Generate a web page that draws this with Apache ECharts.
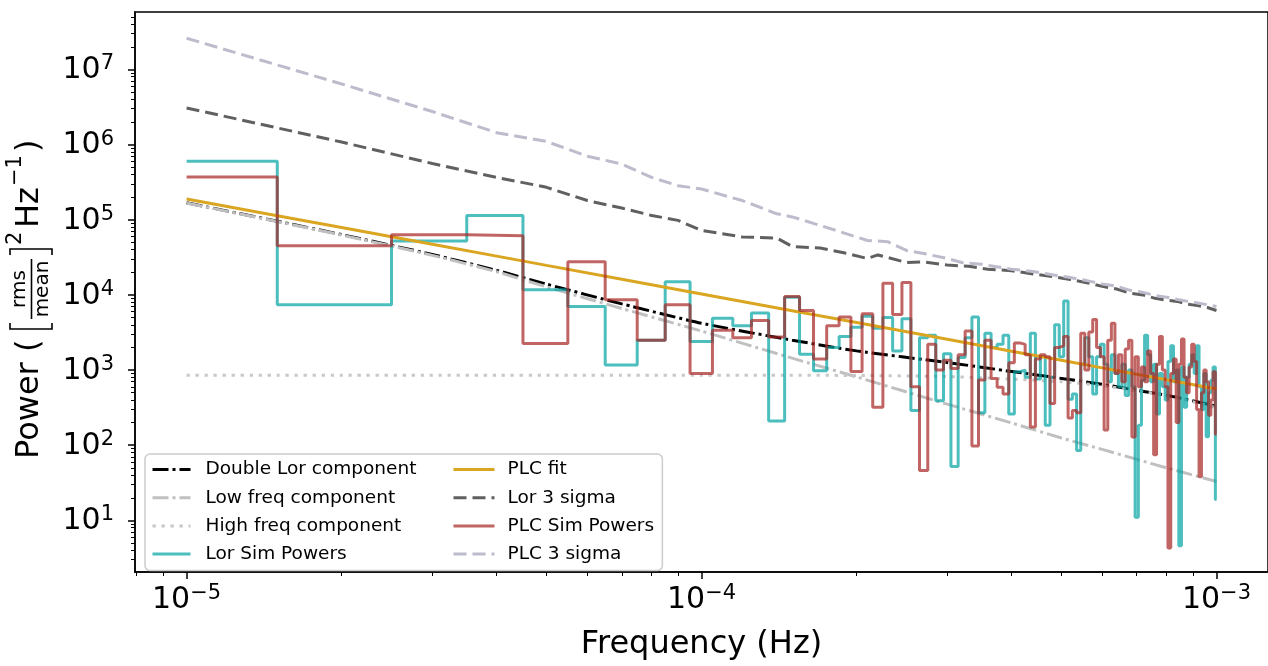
<!DOCTYPE html>
<html><head><meta charset="utf-8">
<script src="https://cdn.jsdelivr.net/npm/echarts@6/dist/echarts.min.js"></script>
<style>html,body{margin:0;padding:0;background:#fff}#c{width:1268px;height:666px}</style>
</head><body><div id="c"></div>
<script>
// ---------------- data ----------------
const DF = 1e-5;                       // Fourier frequency resolution (Hz); sim powers at k*DF, k = 1..100
const lorSimPowers = [
  6.0e5, 7.4e3, 5.2e4, 1.14e5, 1.17e4, 7.0e3, 1.17e3, 2.5e3, 1.5e4, 2.4e3,
  4.9e3, 3.9e3, 5.75e3, 210, 9.3e3, 1.62e3, 980, 2.0e3, 2.8e3, 3.7e3,
  5.2e3, 3.6e3, 5.0e3, 1.8e3, 4.8e3, 290, 2.7e3, 2.9e3, 390, 1.65e3,
  52, 1.47e3, 2.7e3, 5.1e3, 270, 3.1e3, 2.0e3, 2.2e3, 2.9e3, 260,
  950, 1.0e3, 800, 3.1e3, 760, 1.5e3, 185, 800, 4.0e3, 1.5e3,
  8.3e3, 410, 480, 85, 1.2e3, 2.7e3, 1.5e3, 480, 1.5e3, 2.2e3,
  1.2e3, 700, 1.6e3, 900, 600, 1.2e3, 460, 1.0e3, 600, 11,
  185, 730, 2.9e3, 1.6e3, 700, 1.2e3, 260, 900, 600, 400,
  1.3e3, 2.1e3, 700, 1.0e3, 4.6, 1.1e3, 320, 800, 1.2e3, 1.6e3,
  900, 2.1e3, 600, 300, 900, 130, 500, 730, 1.1e3, 19
];
const plcSimPowers = [
  3.7e5, 4.5e4, 6.3e4, 6.1e4, 2.26e3, 2.77e4, 8.6e3, 2.5e3, 7.4e3, 900,
  3.4e3, 2.7e3, 4.55e3, 2.76e3, 9.5e3, 6.2e3, 1.4e3, 3.9e3, 5.1e3, 960,
  5.6e3, 321, 1.43e4, 5.5e3, 1.46e4, 600, 46, 2.2e3, 1.0e3, 1.35e3,
  1.05e3, 1.6e3, 3.3e3, 98, 740, 2.5e3, 770, 590, 480, 1.25e3,
  2.3e3, 2.2e3, 1.6e3, 175, 1.4e3, 1.6e3, 1.5e3, 360, 2.0e3, 2.1e3,
  2.8e3, 230, 290, 270, 3.1e3, 1.0e3, 3.2e3, 4.7e3, 2.0e3, 1.5e3,
  160, 2.5e3, 4.2e3, 900, 1.6e3, 700, 1.9e3, 2.5e3, 129, 1.5e3,
  600, 1.1e3, 700, 1.8e3, 900, 75, 1.2e3, 2.8e3, 1.0e3, 600,
  4.3, 900, 1.4e3, 200, 1.2e3, 2.6e3, 800, 500, 1.1e3, 2.2e3,
  1.3e3, 300, 38, 500, 1.0e3, 700, 250, 400, 950, 140
];
const lorSigmaK = [1,2,3,4,5,6,7,8,9,10,12,14,15,17,19,21,22,25,27,30,33,36,40,44,48,52,56,60,64,68,72,76,80,84,88,92,96,100];
const lor3Sigma = [3.07e6,1.08e6,5.6e5,3.66e5,2.7e5,1.8e5,1.43e5,1.14e5,9.8e4,7.2e4,
  5.9e4,5.7e4,4.4e4,4.2e4,3.6e4,3.05e4,3.4e4,2.7e4,2.75e4,2.5e4,
  2.4e4,2.2e4,2.1e4,1.9e4,1.75e4,1.6e4,1.45e4,1.3e4,1.2e4,1.05e4,
  1.0e4,9.0e3,8.5e3,8.2e3,7.5e3,7.2e3,6.8e3,6.2e3];
const plcSigmaK = [1,2,3,4,5,6,7,8,9,10,12,14,15,17,21,23,25,27,30,32,35,40,44,48,52,56,60,64,68,72,76,80,84,88,92,96,100];
const plc3Sigma = [2.6e7,6.4e6,2.75e6,1.44e6,1.1e6,7.0e5,5.5e5,3.66e5,2.84e5,2.56e5,
  1.8e5,1.2e5,1.09e5,8.4e4,5.3e4,5.1e4,3.9e4,3.56e4,3.05e4,2.7e4,
  2.55e4,2.2e4,2.05e4,1.85e4,1.7e4,1.55e4,1.4e4,1.3e4,1.15e4,1.08e4,
  9.8e3,9.3e3,8.7e3,8.2e3,7.8e3,7.4e3,7.0e3];
const modelFreqs = [1e-5,1.5e-5,2e-5,3e-5,4e-5,5e-5,7e-5,1e-4,1.5e-4,2e-4,3e-4,4e-4,5e-4,6e-4,7e-4,8e-4,1e-3];
const doubleLor  = [1.68e5,9.55e4,6.34e4,3.45e4,2.12e4,1.39e4,7.6e3,4.2e3,2.5e3,1.8e3,1.26e3,959,775,646,538,463,331];
const lowFreqLor = [1.67e5,9.45e4,6.25e4,3.36e4,2.03e4,1.28e4,6.6e3,3.3e3,1.44e3,811,352,198,125,88,65,50,33];
const highFreqLor= [855,855,855,855,855,855,855,855,852,848,820,760,700,620,530,460,315];
const plcFit     = [1.89e5,1.13e5,7.88e4,4.72e4,3.28e4,2.47e4,1.62e4,1.03e4,6.16e3,4.29e3,2.57e3,1.78e3,1.35e3,1.07e3,879,742,560];
const xMajorTicks = [1e-5,1e-4,1e-3];
const yMajorTicks = [1e1,1e2,1e3,1e4,1e5,1e6,1e7];
const X_MIN = 7.94e-6, X_MAX = 1.259e-3, Y_MIN = 2.06, Y_MAX = 5.8e7;

// ---------------- helpers ----------------
function minorTicks(lo, hi){
  const out=[];
  for(let e=Math.floor(Math.log10(lo)); e<=Math.ceil(Math.log10(hi)); e++){
    for(let m=2;m<=9;m++){ const v=m*Math.pow(10,e); if(v>=lo && v<=hi) out.push(v); }
  }
  return out;
}
// matplotlib "steps-mid": transitions at the arithmetic midpoints between frequencies
function stepsMid(vals){
  const pts=[]; const n=vals.length;
  for(let i=0;i<n;i++){
    const f=(i+1)*DF;
    const left = i===0 ? f : (i+0.5)*DF;
    const right = i===n-1 ? f : (i+1.5)*DF;
    pts.push([left, vals[i]], [right, vals[i]]);
  }
  return pts;
}
const pairs = (xs, ys) => xs.map((x,i)=>[x, ys[i]]);
const kToF = ks => ks.map(k=>k*DF);
const FONT = 'DejaVu Sans';
function sci(v){ const e=Math.round(Math.log10(v)); return '{b|10}{s|'+(e<0?'\u2212':'')+Math.abs(e)+'}'; }
const rich = {
  b:{fontSize:30, fontFamily:FONT, color:'#000', lineHeight:32, padding:[6,0,0,0], verticalAlign:'bottom'},
  s:{fontSize:21, fontFamily:FONT, color:'#000', lineHeight:21, verticalAlign:'top'}
};

function lineSeries(name, data, color, width, type, opacity, smooth){
  return {name, type:'line', data, xAxisIndex:0, yAxisIndex:0, symbol:'none', showSymbol:false,
    smooth: smooth||false, silent:true, animation:false,
    lineStyle:{color, width, type, opacity: opacity==null?1:opacity, cap:'butt'},
    itemStyle:{color}};
}

const series = [
  lineSeries('Double Lor component', pairs(modelFreqs,doubleLor), '#000000', 3, [16,4,3,4], 1, 0.2),
  lineSeries('Low freq component', pairs(modelFreqs,lowFreqLor), '#c0c0c0', 3, [16,4,3,4], 1, 0.2),
  lineSeries('High freq component', pairs(modelFreqs,highFreqLor), '#c8c8c8', 3, [3.3,5.7], 1, 0.2),
  lineSeries('Lor Sim Powers', stepsMid(lorSimPowers), 'rgb(0,162,162)', 3, 'solid', 0.7),
  lineSeries('PLC fit', pairs(modelFreqs,plcFit), '#DAA520', 3, 'solid', 1),
  lineSeries('Lor 3 sigma', pairs(kToF(lorSigmaK),lor3Sigma), '#606060', 3, [13,6], 1),
  lineSeries('PLC Sim Powers', stepsMid(plcSimPowers), 'rgb(166,36,34)', 3, 'solid', 0.7),
  lineSeries('PLC 3 sigma', pairs(kToF(plcSigmaK),plc3Sigma), '#bcbccc', 3, [13,6], 1)
];

// y-axis title (rotated group so the fraction can be stacked)
const T = {fontFamily:FONT, fill:'#000'};
function tx(text, x, y, size){
  return {type:'text', x, y, style:Object.assign({text, fontSize:size, align:'left', verticalAlign:'middle', textAlign:'left', textVerticalAlign:'middle'},T)};
}
const yTitle = {
  type:'group', x:0, y:459, rotation:Math.PI/2, silent:true, z:20,
  children:[
    tx('Power (', 0, 30, 32),
    {type:'polyline', shape:{points:[[136,10],[130,10],[130,52],[136,52]]}, style:{stroke:'#000', lineWidth:1.6, fill:null}},
    {type:'text', x:170, y:20, style:Object.assign({text:'rms', fontSize:20, align:'center', verticalAlign:'middle', textAlign:'center', textVerticalAlign:'middle'},T)},
    {type:'line', shape:{x1:140, y1:31.5, x2:200, y2:31.5}, style:{stroke:'#000', lineWidth:1.6}},
    {type:'text', x:170, y:43, style:Object.assign({text:'mean', fontSize:20, align:'center', verticalAlign:'middle', textAlign:'center', textVerticalAlign:'middle'},T)},
    {type:'polyline', shape:{points:[[204,10],[210,10],[210,52],[204,52]]}, style:{stroke:'#000', lineWidth:1.6, fill:null}},
    tx('2', 214, 16, 21),
    tx('Hz', 231, 30, 32),
    tx('\u22121', 273, 16, 21),
    tx(')', 307, 30, 32)
  ]
};

const legendCommon = {
  orient:'vertical', itemHeight:14, itemGap:9.2, selectedMode:false,
  textStyle:{fontSize:18.5, fontFamily:FONT, color:'#000', lineHeight:18},
  itemStyle:{color:'rgba(0,0,0,0)', borderWidth:0, opacity:0},
  lineStyle:{width:3}
};

const option = {
  animation:false,
  textStyle:{fontFamily:FONT},
  grid:{left:135, top:12, right:-6, bottom:89, show:true, borderColor:'#000', borderWidth:1.5, backgroundColor:'transparent'},
  xAxis:[
    {type:'log', min:X_MIN, max:X_MAX, position:'bottom',
     axisLine:{show:true, onZero:false, lineStyle:{color:'#000', width:1.5}},
     axisTick:{show:true, customValues:xMajorTicks, length:7, lineStyle:{color:'#000', width:1.5}},
     axisLabel:{show:true, customValues:xMajorTicks, formatter:sci, rich, margin:11},
     splitLine:{show:false}, minorTick:{show:false},
     name:'Frequency (Hz)', nameLocation:'middle', nameGap:57,
     nameTextStyle:{fontSize:32, fontFamily:FONT, color:'#000'}},
    {type:'log', min:X_MIN, max:X_MAX, position:'bottom', gridIndex:0,
     axisLine:{show:false, onZero:false}, axisLabel:{show:false}, splitLine:{show:false},
     axisTick:{show:true, customValues:minorTicks(X_MIN,X_MAX), length:4, lineStyle:{color:'#000', width:1}}}
  ],
  yAxis:[
    {type:'log', min:Y_MIN, max:Y_MAX, position:'left',
     axisLine:{show:true, onZero:false, lineStyle:{color:'#000', width:1.5}},
     axisTick:{show:true, customValues:yMajorTicks, length:7, lineStyle:{color:'#000', width:1.5}},
     axisLabel:{show:true, customValues:yMajorTicks, formatter:sci, rich, margin:21},
     splitLine:{show:false}},
    {type:'log', min:Y_MIN, max:Y_MAX, position:'left', gridIndex:0,
     axisLine:{show:false, onZero:false}, axisLabel:{show:false}, splitLine:{show:false},
     axisTick:{show:true, customValues:minorTicks(Y_MIN,Y_MAX), length:4, lineStyle:{color:'#000', width:1}}}
  ],
  legend:[
    Object.assign({}, legendCommon, {
      data:['Double Lor component','Low freq component','High freq component','Lor Sim Powers'],
      left:145, top:454, padding:[6,246,7,6], itemWidth:38,
      backgroundColor:'rgba(255,255,255,0.8)', borderColor:'#cccccc', borderWidth:1.5, borderRadius:5, z:10,
      textStyle:Object.assign({}, legendCommon.textStyle, {padding:[0,0,0,10]})
    }),
    Object.assign({}, legendCommon, {
      data:['PLC fit','Lor 3 sigma','PLC Sim Powers','PLC 3 sigma'],
      left:452, top:460, padding:0, itemWidth:41, z:11,
      textStyle:Object.assign({}, legendCommon.textStyle, {padding:[0,0,0,8]})
    })
  ],
  graphic:[yTitle],
  series
};
const chart = echarts.init(document.getElementById('c'), null, {renderer:'canvas'});
chart.setOption(option);
</script>
</body></html>
